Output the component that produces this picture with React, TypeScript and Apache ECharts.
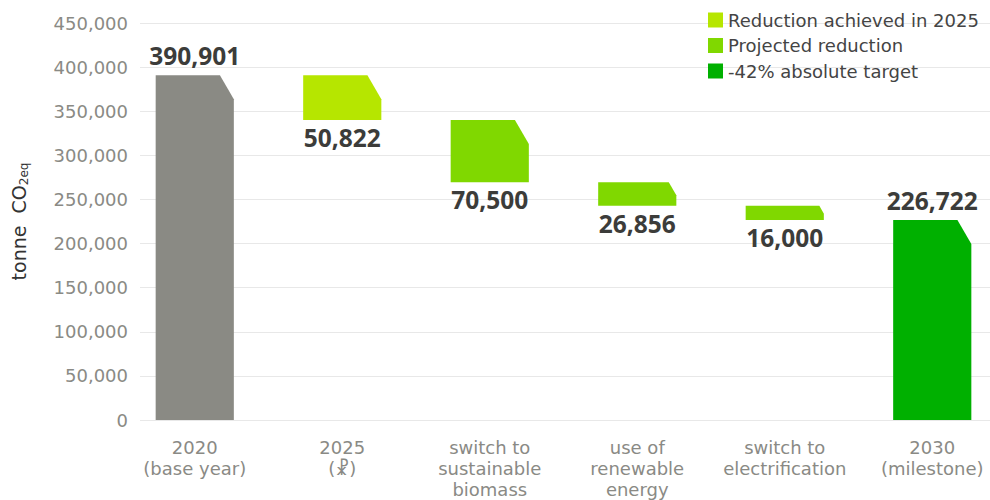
import React, { useEffect, useRef } from "react";
import * as echarts from "echarts";

const categories = [
  "2020\n(base year)",
  "2025\n(☧)",
  "switch to\nsustainable\nbiomass",
  "use of\nrenewable\nenergy",
  "switch to\nelectrification",
  "2030\n(milestone)",
];
const baseline2020 = 390901;
const reduction2025 = 50822;
const projectedReductions = [70500, 26856, 16000];
const target2030 = 226722;
const yMin = 0;
const yMax = 450000;
const yStep = 50000;
const legendNames = ["Reduction achieved in 2025", "Projected reduction", "-42% absolute target"];

const FONT = "'DejaVu Sans', 'Noto Sans', sans-serif";
const BOLD_FONT = "'Noto Sans', sans-serif";
const fmt = (v: number) => v.toLocaleString("en-US");

function makeRender(labelPos: "above" | "below") {
  return (params: any, api: any) => {
    const x = api.value(0);
    const low = api.value(1);
    const high = api.value(2);
    const labelVal = api.value(3);
    const pTop = api.coord([x, high]);
    const pBot = api.coord([x, low]);
    const w = api.size([1, 0])[0] * 0.53;
    const left = pTop[0] - w / 2;
    const right = pTop[0] + w / 2;
    const top = pTop[1];
    const bot = pBot[1];
    const h = bot - top;
    const cv = Math.min(24, h * 0.55);
    const ch = cv * 0.58;
    const color = api.visual("color");
    return {
      type: "group",
      children: [
        {
          type: "polygon",
          shape: {
            points: [
              [left, top],
              [right - ch, top],
              [right, top + cv],
              [right, bot],
              [left, bot],
            ],
          },
          style: { fill: color },
        },
        {
          type: "text",
          x: pTop[0],
          y: labelPos === "above" ? top - 7 : bot + 5,
          style: {
            text: fmt(labelVal),
            fill: "#3c3c3a",
            font: `bold 24.5px ${BOLD_FONT}`,
            align: "center",
            verticalAlign: labelPos === "above" ? "bottom" : "top",
          },
        },
      ],
    };
  };
}

export default function App() {
  const ref = useRef<HTMLDivElement>(null);
  useEffect(() => {
    if (!ref.current) return;
    const chart = echarts.init(ref.current, undefined, { renderer: "svg" });

    const low2025 = baseline2020 - reduction2025;
    const projData: number[][] = [];
    let cur = low2025;
    projectedReductions.forEach((r, i) => {
      projData.push([2 + i, cur - r, cur, r]);
      cur -= r;
    });

    const common = {
      type: "custom",
      xAxisIndex: 0,
      yAxisIndex: 1,
      encode: { x: 0, y: [1, 2] },
    };

    chart.setOption({
      animation: false,
      textStyle: { fontFamily: FONT },
      grid: [
        { left: 136, right: 16, top: 23, bottom: 80 },
        { left: 121, right: 0, top: 23, bottom: 80 },
      ],
      legend: {
        data: legendNames,
        orient: "vertical",
        left: 708,
        top: 11,
        padding: 0,
        icon: "rect",
        itemWidth: 15,
        itemHeight: 15,
        itemGap: 7.5,
        textStyle: { fontSize: 18, color: "#444", fontFamily: FONT },
      },
      xAxis: [
        {
          gridIndex: 1,
          type: "category",
          data: categories,
          axisLine: { show: false },
          axisTick: { show: false },
          axisLabel: { fontSize: 18, lineHeight: 21, color: "#8a8a85", margin: 17, interval: 0, fontFamily: FONT },
        },
        { gridIndex: 0, type: "value", show: false },
      ],
      yAxis: [
        {
          gridIndex: 0,
          type: "value",
          min: yMin,
          max: yMax,
          interval: yStep,
          axisLine: { show: false },
          axisTick: { show: false },
          splitLine: { lineStyle: { color: "#e8e8e8", width: 1 } },
          axisLabel: { fontSize: 18, color: "#8a8a85", margin: 12, formatter: (v: number) => fmt(v), fontFamily: FONT },
          name: "tonne  CO{sub|2eq}",
          nameLocation: "middle",
          nameGap: 110,
          nameRotate: 90,
          nameTextStyle: {
            fontSize: 19,
            color: "#333",
            lineHeight: 22,
            fontFamily: FONT,
            rich: {
              sub: { fontSize: 12, color: "#333", lineHeight: 12, verticalAlign: "bottom", fontFamily: FONT },
            },
          },
        },
        { gridIndex: 1, type: "value", min: yMin, max: yMax, show: false },
      ],
      series: [
        {
          ...common,
          name: "2020 base",
          itemStyle: { color: "#8a8a84" },
          renderItem: makeRender("above"),
          data: [[0, 0, baseline2020, baseline2020]],
        },
        {
          ...common,
          name: legendNames[0],
          itemStyle: { color: "#b6e600" },
          renderItem: makeRender("below"),
          data: [[1, low2025, baseline2020, reduction2025]],
        },
        {
          ...common,
          name: legendNames[1],
          itemStyle: { color: "#80d800" },
          renderItem: makeRender("below"),
          data: projData,
        },
        {
          ...common,
          name: legendNames[2],
          itemStyle: { color: "#00b000" },
          renderItem: makeRender("above"),
          data: [[5, 0, target2030, target2030]],
        },
      ],
    });
    return () => chart.dispose();
  }, []);
  return (
    <div style={{ position: "absolute", left: 0, top: 0, width: 990, height: 500, overflow: "hidden" }}>
      <div ref={ref} style={{ width: 1006, height: 500 }} />
    </div>
  );
}
